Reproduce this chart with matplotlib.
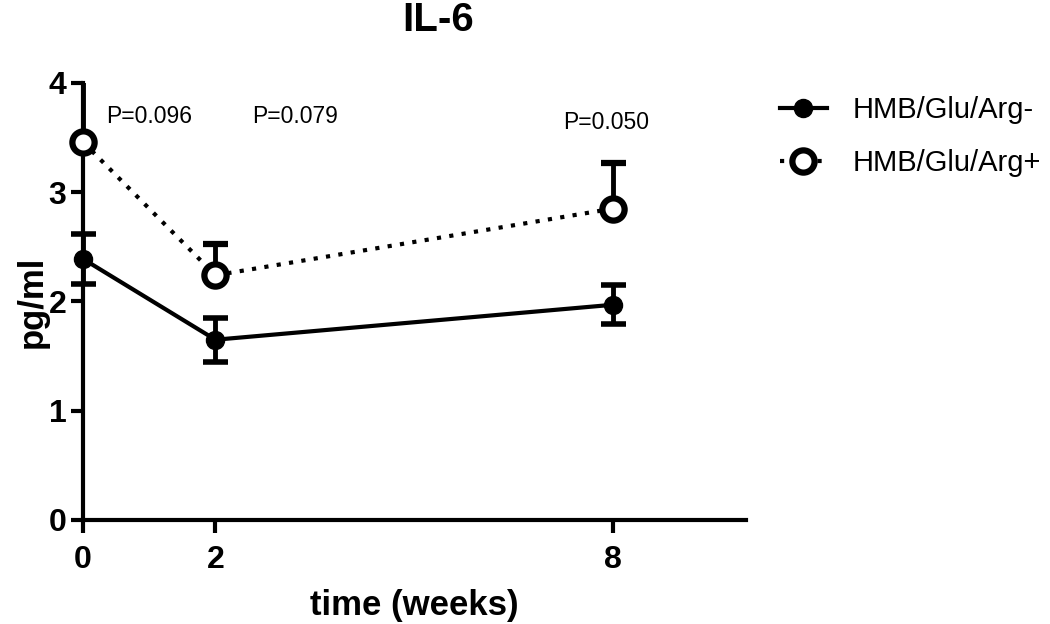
import matplotlib
matplotlib.use('Agg')
import matplotlib.pyplot as plt
from matplotlib import font_manager

plt.rcParams['font.family'] = ['Liberation Sans', 'DejaVu Sans']
names = set(f.name for f in font_manager.fontManager.ttflist)
narrow = 'Liberation Sans Narrow' if 'Liberation Sans Narrow' in names else 'Liberation Sans'

# data
weeks = [0, 2, 8]
neg_mean = [2.39, 1.65, 1.97]
neg_err = [0.23, 0.20, 0.18]
pos_mean = [3.46, 2.24, 2.85]
pos_err_up = [0.62, 0.29, 0.42]
p_labels = ['P=0.096', 'P=0.079', 'P=0.050']
p_x = [1.0, 3.2, 7.9]
p_y = [3.69, 3.69, 3.64]

fig = plt.figure(figsize=(10.5, 6.24), dpi=100)
ax = fig.add_axes([0.079, 0.1667, 0.631, 0.7003])

l1 = ax.errorbar(weeks, neg_mean, yerr=neg_err, color='black', lw=3, marker='o',
                 ms=13, capsize=9, capthick=4, elinewidth=3.5,
                 clip_on=False, zorder=3)
l2 = ax.errorbar(weeks, pos_mean, yerr=[[0, 0, 0], pos_err_up], color='black', lw=3,
                 ls=(0, (1, 2)), marker='o', ms=16, mfc='white', mec='black', mew=4.5,
                 capsize=9, capthick=4, elinewidth=3.5, zorder=3)
l2[0].set_clip_on(False)
for c in l2[1]:
    c.set_clip_on(True)
for b in l2[2]:
    b.set_clip_on(True)

for x, y, t in zip(p_x, p_y, p_labels):
    ax.text(x, y, t, ha='center', va='center', fontsize=16.5)

ax.set_xlim(0, 10)
ax.set_ylim(0, 4)
ax.set_xticks(weeks)
ax.set_yticks([0, 1, 2, 3, 4])
for s in ['top', 'right']:
    ax.spines[s].set_visible(False)
for s in ['left', 'bottom']:
    ax.spines[s].set_linewidth(3)
ax.tick_params(width=3, length=9, labelsize=23, pad=3)
ax.tick_params(axis='x', pad=9)
for lbl in ax.get_xticklabels() + ax.get_yticklabels():
    lbl.set_fontweight('bold')
    lbl.set_family(narrow)

ax.set_xlabel('time (weeks)', fontsize=25, fontweight='bold', labelpad=10)
ax.set_ylabel('pg/ml', fontsize=25, fontweight='bold', labelpad=0)
fig.text(0.417, 0.998, 'IL-6', ha='center', va='top', fontsize=29, fontweight='bold')

ax.legend([l1[0], l2[0]], ['HMB/Glu/Arg-', 'HMB/Glu/Arg+'],
          loc='upper left', bbox_to_anchor=(1.0345, 0.996), frameon=False,
          fontsize=21, handlelength=1.6, handletextpad=0.9, labelspacing=0.84,
          borderpad=0.4, borderaxespad=0)

fig.savefig('out.png', dpi=100)
